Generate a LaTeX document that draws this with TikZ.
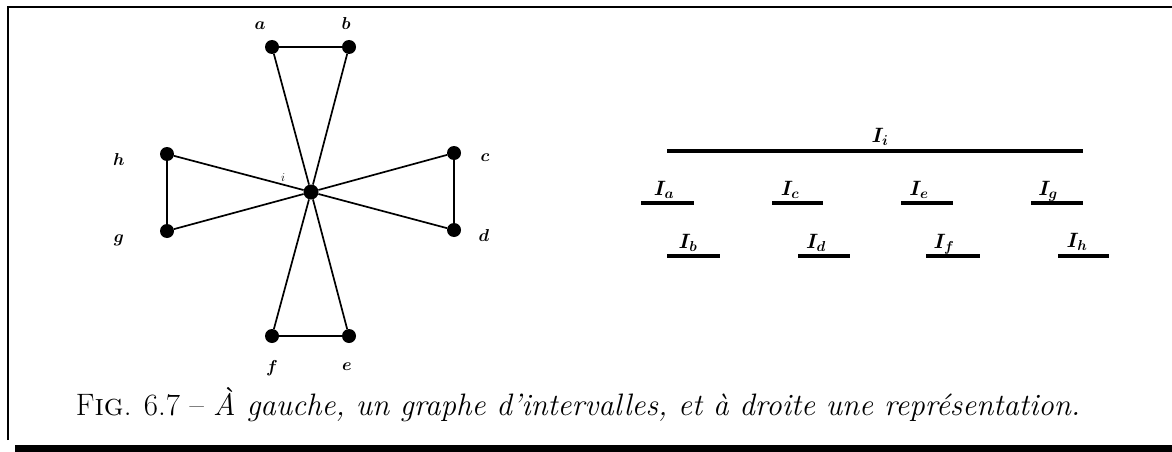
\documentclass[tikz,border=0pt]{standalone}
\usepackage{amsmath}
\begin{document}
\begin{tikzpicture}[x=1pt,y=-1pt,
  vtx/.style={circle,fill=black,inner sep=0pt,minimum size=14pt},
  edge/.style={line width=1.7pt},
  lab/.style={font=\fontsize{19}{22}\selectfont\boldmath,inner sep=0pt},
  ival/.style={line width=4pt},
  ilab/.style={font=\fontsize{21}{24}\selectfont\boldmath,inner sep=0pt},
  frame/.style={line width=1.5pt}]
\useasboundingbox (0,0) rectangle (1172,452);
% frame
\coordinate (fb) at (8,440);
\coordinate (ftl) at (8,7);
\coordinate (ftr) at (1172,7);
\draw[frame] (fb) -- (ftl) -- (ftr);
\fill (15,445) rectangle (1172,452);
% graph
\node[vtx] (a) at (272,47) {};
\node[vtx] (b) at (349,47) {};
\node[vtx] (c) at (454,153) {};
\node[vtx] (d) at (454,230) {};
\node[vtx] (e) at (349,336) {};
\node[vtx] (f) at (272,336) {};
\node[vtx] (g) at (167,231) {};
\node[vtx] (h) at (167,154) {};
\node[vtx,minimum size=15pt] (i) at (311,192) {};
\foreach \u/\v in {c/d,e/f,g/h,i/a,i/b,i/c,i/d,i/e,i/f,i/g,i/h}
  \draw[edge] (\u) -- (\v);
\draw[line width=1.2pt] (a) -- (b);
\node[lab] (la) at (260,26) {$a$};
\node[lab] (lb) at (346,24) {$b$};
\node[lab] (lc) at (485,158) {$c$};
\node[lab] (ld) at (484,235) {$d$};
\node[lab] (le) at (347,367) {$e$};
\node[lab] (lf) at (272,368) {$f$};
\node[lab] (lg) at (119,240) {$g$};
\node[lab] (lh) at (119,159) {$h$};
\node[lab,font=\fontsize{12}{14}\selectfont] (li) at (283,178) {$i$};
% intervals
\foreach \n/\xa/\xb/\yy in {i/667/1083/151, a/641/694/203, c/772/823/203, e/901/953/203, g/1031/1083/203,
  b/667/720/256, d/798/850/256, f/926/980/256, h/1058/1109/256}{
  \coordinate (I\n1) at (\xa,\yy);
  \coordinate (I\n2) at (\xb,\yy);
  \draw[ival] (I\n1) -- (I\n2);
}
\node[ilab] (lIi) at (880,137) {$I_i$};
\node[ilab] (lIa) at (664,190) {$I_a$};
\node[ilab] (lIc) at (790,190) {$I_c$};
\node[ilab] (lIe) at (919,190) {$I_e$};
\node[ilab] (lIg) at (1048,191) {$I_g$};
\node[ilab] (lIb) at (688,243) {$I_b$};
\node[ilab] (lId) at (816,243) {$I_d$};
\node[ilab] (lIf) at (944,244) {$I_f$};
\node[ilab] (lIh) at (1077,242) {$I_h$};
% caption
\node[font=\fontsize{31}{36}\selectfont,anchor=base,inner sep=0pt] (cap) at (578,415)
  {F\textsc{ig}. 6.7 -- \textit{À gauche, un graphe d'intervalles, et à droite une représentation.}};
\end{tikzpicture}
\end{document}
